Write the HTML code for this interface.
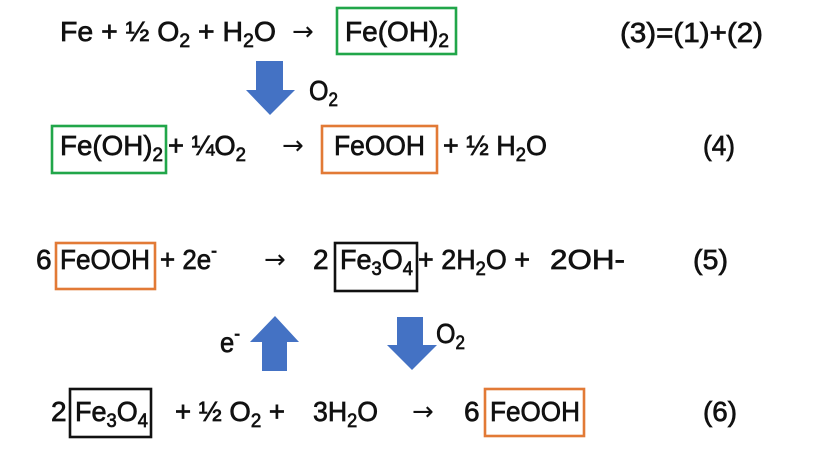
<!DOCTYPE html>
<html><head><meta charset="utf-8"><style>
html,body{margin:0;padding:0;background:#fff;}
svg{display:block;}
text{font-family:"Liberation Sans",Arial,sans-serif;font-size:28px;fill:#111;stroke:#111;stroke-width:0.7px;}
.s{font-size:19px;}
.a{font-family:"DejaVu Sans",sans-serif;font-size:26px;stroke-width:0;}
</style></head><body>
<svg width="814" height="463" viewBox="0 0 814 463" xmlns="http://www.w3.org/2000/svg">
<rect width="814" height="463" fill="#fff"/>
<g fill="none" stroke-width="2.6">
<rect x="337" y="8" width="119" height="46" stroke="#21A64A"/>
<rect x="52" y="126" width="114" height="47" stroke="#21A64A"/>
<rect x="322" y="126" width="115" height="47" stroke="#E27A36"/>
<rect x="56" y="243" width="99" height="46" stroke="#E27A36"/>
<rect x="335" y="243" width="82" height="48" stroke="#111"/>
<rect x="70" y="389" width="81" height="48" stroke="#111"/>
<rect x="485" y="389" width="99" height="47" stroke="#E27A36"/>
</g>
<g fill="#4472C4">
<polygon points="256,61 283,61 283,90 295,90 270,115 246,90 256,90"/>
<polygon points="275,316 299,342 287,342 287,371 262,371 262,342 250,342"/>
<polygon points="397,317 423,317 423,345 437,345 412,370 387,345 397,345"/>
</g>
<!-- row 1 -->
<text x="60" y="41" textLength="216" lengthAdjust="spacingAndGlyphs">Fe + ½ O<tspan class="s" dy="6">2</tspan><tspan dy="-6"> +  H</tspan><tspan class="s" dy="6">2</tspan><tspan dy="-6">O</tspan></text>
<text class="a" x="292" y="40">→</text>
<text x="345" y="41" textLength="104" lengthAdjust="spacingAndGlyphs">Fe(OH)<tspan class="s" dy="6">2</tspan></text>
<text x="620" y="42" textLength="143" lengthAdjust="spacingAndGlyphs">(3)=(1)+(2)</text>
<text x="309" y="100" textLength="29" lengthAdjust="spacingAndGlyphs">O<tspan class="s" dy="6">2</tspan></text>
<!-- row 2 -->
<text x="60" y="155" textLength="103" lengthAdjust="spacingAndGlyphs">Fe(OH)<tspan class="s" dy="6">2</tspan></text>
<text x="168" y="155" textLength="78" lengthAdjust="spacingAndGlyphs">+ ¼O<tspan class="s" dy="6">2</tspan></text>
<text class="a" x="282" y="154">→</text>
<text x="334" y="155" textLength="91" lengthAdjust="spacingAndGlyphs">FeOOH</text>
<text x="443" y="155" textLength="104" lengthAdjust="spacingAndGlyphs">+ ½ H<tspan class="s" dy="6">2</tspan><tspan dy="-6">O</tspan></text>
<text x="703" y="155" textLength="32" lengthAdjust="spacingAndGlyphs">(4)</text>
<!-- row 3 -->
<text x="36" y="269">6</text>
<text x="60" y="269" textLength="90" lengthAdjust="spacingAndGlyphs">FeOOH</text>
<text x="160" y="269" textLength="57" lengthAdjust="spacingAndGlyphs">+ 2e<tspan class="s" dy="-12">-</tspan></text>
<text class="a" x="264" y="268">→</text>
<text x="313" y="269">2</text>
<text x="340" y="269" textLength="73" lengthAdjust="spacingAndGlyphs">Fe<tspan class="s" dy="6">3</tspan><tspan dy="-6">O</tspan><tspan class="s" dy="6">4</tspan></text>
<text x="418" y="269" textLength="112" lengthAdjust="spacingAndGlyphs">+ 2H<tspan class="s" dy="6">2</tspan><tspan dy="-6">O +</tspan></text>
<text x="550" y="269" textLength="75" lengthAdjust="spacingAndGlyphs">2OH-</text>
<text x="693" y="269" textLength="35" lengthAdjust="spacingAndGlyphs">(5)</text>
<text x="220" y="352" textLength="20" lengthAdjust="spacingAndGlyphs">e<tspan class="s" dy="-12">-</tspan></text>
<text x="436" y="343" textLength="29" lengthAdjust="spacingAndGlyphs">O<tspan class="s" dy="6">2</tspan></text>
<!-- row 4 -->
<text x="51" y="421">2</text>
<text x="75" y="421" textLength="73" lengthAdjust="spacingAndGlyphs">Fe<tspan class="s" dy="6">3</tspan><tspan dy="-6">O</tspan><tspan class="s" dy="6">4</tspan></text>
<text x="175" y="421" textLength="110" lengthAdjust="spacingAndGlyphs">+ ½ O<tspan class="s" dy="6">2</tspan><tspan dy="-6"> +</tspan></text>
<text x="313" y="421" textLength="65" lengthAdjust="spacingAndGlyphs">3H<tspan class="s" dy="6">2</tspan><tspan dy="-6">O</tspan></text>
<text class="a" x="412" y="420">→</text>
<text x="464" y="421">6</text>
<text x="490" y="421" textLength="90" lengthAdjust="spacingAndGlyphs">FeOOH</text>
<text x="703" y="421" textLength="34" lengthAdjust="spacingAndGlyphs">(6)</text>
</svg>
</body></html>
